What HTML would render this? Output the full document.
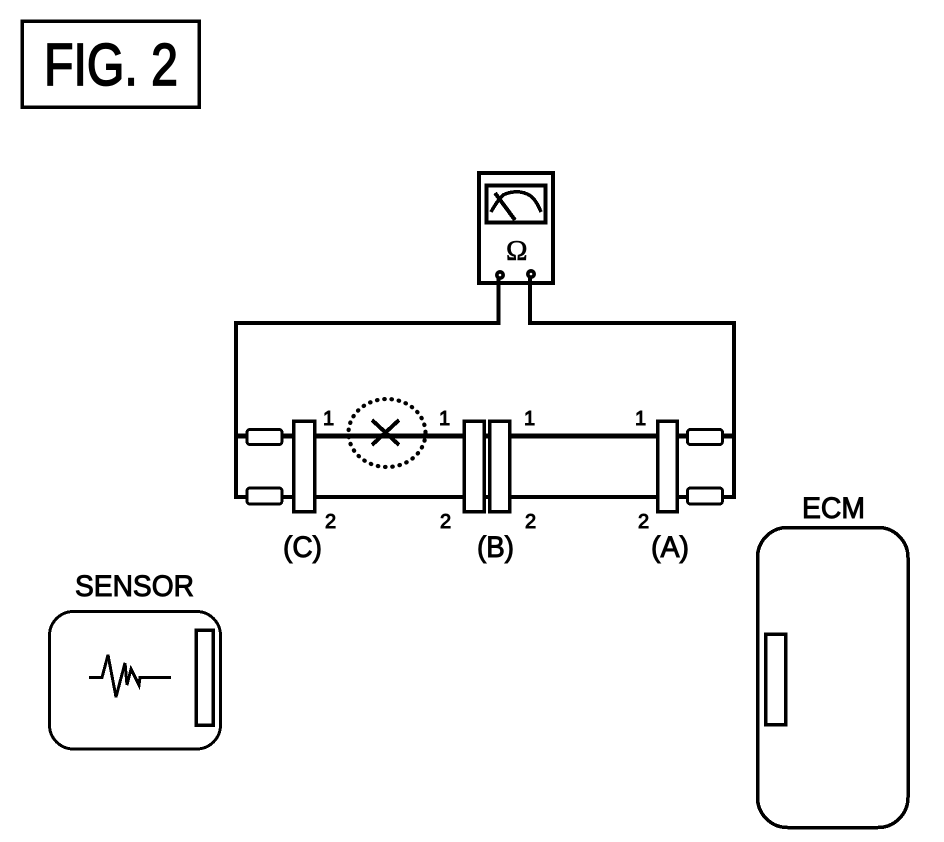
<!DOCTYPE html>
<html><head><meta charset="utf-8"><style>
html,body{margin:0;padding:0;background:#fff}
svg{display:block}
text{font-family:"Liberation Sans",sans-serif;fill:#000;stroke:#000}
</style></head><body>
<svg width="944" height="842" viewBox="0 0 944 842" xmlns="http://www.w3.org/2000/svg">
<rect width="944" height="842" fill="#fff"/>
<g fill="none" stroke="#000" stroke-width="3.5" stroke-linejoin="miter" shape-rendering="crispEdges">
<!-- FIG box -->
<rect x="22" y="21" width="177" height="86"/>
<!-- meter -->
<rect x="479" y="173" width="74" height="110" stroke-width="4"/>
<rect x="486.500" y="185.500" width="59" height="37" stroke-width="4"/>
<path d="M491 212 Q497 201 503 195 Q511 191 520 192 Q528 193 533 198 Q538 204 541 212" stroke-width="3.500"/>
<path d="M495 193 L515 220" stroke-width="4"/>
<!-- wires -->
<path d="M498.500 276 V323 H236 V497 H247" stroke-width="4"/>
<path d="M530 276 V323 H734 V497 H723" stroke-width="4"/>
<path d="M236 436 H247 M282 436 H293 M314 436 H463 M484 436 H489 M510 436 H657 M677 436 H687 M723 436 H734" stroke-width="5"/>
<path d="M282 497 H293 M314 497 H463 M484 497 H489 M510 497 H657 M677 497 H687" stroke-width="4"/>
<!-- resistors -->
<rect x="247" y="429.500" width="35" height="15" rx="3" fill="#fff" stroke-width="3"/>
<rect x="247" y="488" width="35" height="16" rx="3" fill="#fff" stroke-width="3"/>
<rect x="687.500" y="429.500" width="35" height="15" rx="3" fill="#fff" stroke-width="3"/>
<rect x="687.500" y="488" width="35" height="16" rx="3" fill="#fff" stroke-width="3"/>
<!-- connectors -->
<rect x="293.500" y="421" width="21" height="90.500" fill="#fff"/>
<rect x="464" y="421" width="20" height="90.500" fill="#fff"/>
<rect x="489.500" y="421" width="20" height="90.500" fill="#fff"/>
<rect x="657.500" y="421" width="19.500" height="90.500" fill="#fff"/>
<!-- fault mark -->
<ellipse cx="387" cy="433" rx="38.500" ry="34" stroke-width="4.200" stroke-dasharray="0.500 6.800" stroke-linecap="round" shape-rendering="auto"/>
<path d="M372 420 L399 445 M399 420 L372 445" stroke-width="4"/>
<!-- sensor -->
<rect x="49.500" y="611.500" width="171" height="137.500" rx="24" stroke-width="3"/>
<rect x="196" y="630" width="17" height="95" stroke-width="3.500"/>
<path d="M89 677.500 H102 L108 655 L116 697 L125 663 L127 685 L131 669 L139 685 L140 677.500 H171" stroke-width="3"/>
<!-- ECM -->
<rect x="757.500" y="527.500" width="150.500" height="300" rx="30" stroke-width="3.500"/>
<rect x="765.500" y="634" width="20" height="90.500" stroke-width="3.500"/>
</g>
<circle cx="500" cy="275" r="5" fill="#000"/><circle cx="500" cy="275" r="1.300" fill="#fff"/>
<circle cx="531" cy="274" r="5" fill="#000"/><circle cx="531" cy="274" r="1.300" fill="#fff"/>
<text x="506" y="260" font-size="29" stroke-width="0.600" style="font-family:'Liberation Serif',serif">Ω</text>
<text x="44" y="85" font-size="59" stroke-width="1.700" textLength="134" lengthAdjust="spacingAndGlyphs">FIG. 2</text>
<g stroke-width="1" font-size="20">
<text x="323" y="425">1</text><text x="439" y="425">1</text><text x="524" y="425">1</text><text x="635" y="425">1</text>
<text x="325" y="528">2</text><text x="440" y="528">2</text><text x="525" y="528">2</text><text x="638" y="528">2</text>
</g>
<g stroke-width="1" font-size="30">
<text x="283" y="557" textLength="39" lengthAdjust="spacingAndGlyphs">(C)</text>
<text x="477" y="557" textLength="37" lengthAdjust="spacingAndGlyphs">(B)</text>
<text x="651" y="557" textLength="38" lengthAdjust="spacingAndGlyphs">(A)</text>
<text x="75" y="596" textLength="119" lengthAdjust="spacingAndGlyphs">SENSOR</text>
<text x="802" y="518" textLength="63" lengthAdjust="spacingAndGlyphs">ECM</text>
</g>
</svg>
</body></html>
